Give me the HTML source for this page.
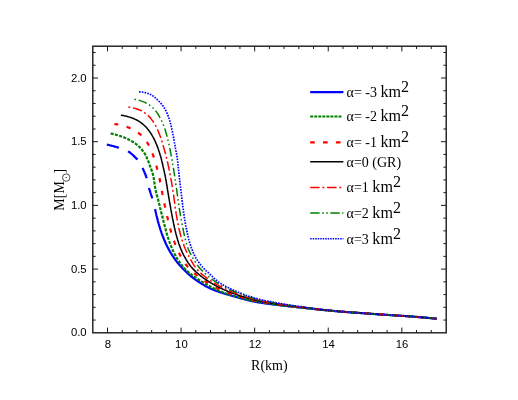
<!DOCTYPE html>
<html>
<head>
<meta charset="utf-8">
<title>M-R relation</title>
<style>
html, body { margin: 0; padding: 0; background: #ffffff; }
body { width: 518px; height: 400px; overflow: hidden; font-family: "Liberation Sans", sans-serif; }
svg { display: block; will-change: transform; }
</style>
</head>
<body>
<svg width="518" height="400" viewBox="0 0 518 400">
<rect x="0" y="0" width="518" height="400" fill="#ffffff"/>
<g fill="none" stroke-linecap="butt" stroke-linejoin="round">
<path d="M106.8,144.6 L107.5,144.7 L108.2,144.9 L108.9,145.0 L109.5,145.2 L110.2,145.4 L110.9,145.5 L111.6,145.7 L112.2,145.9 L112.9,146.0 L113.6,146.2 L114.3,146.4 L114.9,146.6 L115.6,146.8 L116.3,147.0 L116.9,147.2 L117.6,147.4 L118.3,147.6 L118.9,147.8" stroke="#0000ff" stroke-width="2.2"/>
<path d="M128.0,151.3 L128.6,151.7 L129.2,152.0 L129.8,152.4 L130.3,152.9 L130.9,153.3 L131.4,153.8 L131.9,154.2 L132.5,154.7 L133.0,155.2 L133.5,155.6 L134.0,156.1 L134.5,156.6 L135.0,157.1 L135.5,157.6 L136.0,158.1 L136.5,158.6 L137.0,159.1 L137.4,159.6" stroke="#0000ff" stroke-width="2.2"/>
<path d="M142.5,168.0 L142.8,168.6 L143.1,169.2 L143.4,169.8 L143.7,170.5 L144.0,171.1 L144.3,171.8 L144.5,172.4 L144.8,173.0 L145.1,173.7 L145.3,174.3 L145.6,175.0 L145.8,175.7 L146.1,176.3 L146.3,177.0 L146.5,177.6 L146.7,178.3" stroke="#0000ff" stroke-width="2.2"/>
<path d="M149.0,187.8 L149.1,188.5 L149.3,189.1 L149.5,189.8 L149.7,190.5 L150.0,191.1 L150.2,191.8 L150.4,192.5 L150.6,193.1 L150.8,193.8 L151.0,194.4 L151.2,195.1 L151.5,195.8 L151.7,196.4 L151.9,197.1 L152.1,197.8 L152.2,198.4" stroke="#0000ff" stroke-width="2.2"/>
<path d="M155.1,209.2 L155.2,209.9 L155.4,210.6 L155.6,211.3 L155.7,212.0 L155.9,212.6 L156.0,213.3 L156.2,214.0 L156.3,214.7 L156.5,215.4 L156.6,216.0 L156.8,216.7 L157.0,217.4 L157.1,218.1 L157.3,218.7 L157.5,219.4 L157.6,220.1 L157.8,220.8 L158.0,221.4 L158.2,222.1 L158.4,222.8 L158.6,223.5 L158.8,224.1 L159.0,224.8 L159.1,225.5 L159.3,226.1 L159.5,226.8 L159.8,227.5 L160.0,228.1 L160.2,228.8 L160.4,229.5 L160.6,230.1 L160.8,230.8 L161.0,231.5 L161.3,232.1 L161.5,232.8 L161.7,233.4 L162.0,234.1 L162.2,234.7 L162.4,235.4 L162.7,236.0 L162.9,236.7 L163.2,237.3 L163.4,238.0 L163.7,238.6 L164.0,239.3 L164.2,239.9 L164.5,240.6 L164.8,241.2 L165.1,241.9 L165.3,242.5 L165.6,243.1 L165.9,243.8 L166.2,244.4 L166.5,245.0 L166.8,245.6 L167.1,246.3 L167.4,246.9 L167.8,247.5 L168.1,248.1 L168.4,248.7 L168.7,249.4 L169.1,250.0 L169.4,250.6 L169.8,251.2 L170.1,251.8 L170.5,252.4 L170.8,253.0 L171.2,253.6 L171.6,254.2 L171.9,254.8 L172.3,255.4 L172.7,255.9 L173.1,256.5 L173.5,257.1 L173.9,257.7 L174.3,258.2 L174.7,258.8 L175.1,259.4 L175.5,260.0 L175.9,260.5 L176.3,261.1 L176.7,261.6 L177.2,262.2 L177.6,262.7 L178.1,263.3 L178.5,263.8 L178.9,264.3 L179.4,264.9 L179.9,265.4 L180.3,265.9 L180.8,266.4 L181.3,266.9 L181.7,267.4 L182.2,267.9 L182.7,268.4 L183.2,269.0 L183.7,269.5 L184.2,270.0 L184.6,270.4 L185.2,270.9 L185.7,271.4 L186.2,271.9 L186.7,272.4 L187.2,272.9 L187.7,273.4 L188.2,273.8 L188.8,274.3 L189.3,274.8 L189.8,275.2 L190.3,275.7 L190.9,276.1 L191.4,276.6 L192.0,277.0 L192.5,277.4 L193.1,277.9 L193.6,278.3 L194.2,278.7 L194.7,279.1 L195.3,279.5 L195.8,279.9 L196.4,280.3 L197.0,280.7 L197.5,281.1 L198.1,281.5 L198.7,281.9 L199.3,282.3 L199.9,282.6 L200.5,283.0 L201.0,283.4 L201.6,283.8 L202.2,284.1 L202.9,284.5 L203.5,284.8 L204.1,285.2 L204.7,285.5 L205.3,285.9 L205.9,286.2 L206.5,286.6 L207.2,286.9 L207.8,287.2 L208.4,287.5 L209.0,287.8 L209.7,288.1 L210.3,288.4 L210.9,288.7 L211.6,289.0 L212.2,289.3 L212.8,289.5 L213.5,289.8 L214.1,290.1 L214.7,290.3 L215.4,290.6 L216.0,290.8 L216.7,291.1 L217.3,291.3 L218.0,291.5 L218.6,291.7 L219.3,292.0 L220.0,292.2 L220.6,292.4 L221.3,292.6 L222.0,292.8 L222.6,293.0 L223.3,293.2 L224.0,293.5 L224.6,293.7 L225.3,293.9 L226.0,294.1 L226.7,294.2 L227.3,294.4 L228.0,294.6 L228.7,294.8 L229.4,295.0 L230.0,295.2 L230.7,295.4 L231.4,295.6 L232.1,295.8 L232.7,296.0 L233.4,296.2 L234.1,296.4 L234.7,296.5 L235.4,296.7 L236.1,296.9 L236.7,297.1 L237.4,297.3 L238.1,297.5 L238.8,297.7 L239.4,297.9 L240.1,298.1 L240.8,298.3 L241.5,298.4 L242.1,298.6 L242.8,298.8 L243.5,299.0 L244.1,299.2 L244.8,299.4 L245.5,299.5 L246.2,299.7 L246.9,299.9 L247.5,300.1 L248.2,300.2 L248.9,300.4 L249.6,300.6 L250.2,300.7 L250.9,300.9 L251.6,301.0 L252.3,301.2 L253.0,301.3 L253.6,301.5 L254.3,301.6 L255.0,301.8 L255.7,301.9 L256.4,302.0 L257.1,302.1 L257.7,302.3 L258.4,302.4 L259.1,302.5 L259.8,302.6 L260.5,302.7 L261.2,302.8 L261.8,302.9 L262.5,303.0 L263.2,303.1 L263.9,303.2 L264.6,303.3 L265.3,303.4 L266.0,303.5 L266.7,303.6 L267.4,303.7 L268.1,303.8 L268.8,303.9 L269.4,304.0 L270.1,304.1 L270.8,304.2 L271.5,304.2 L272.2,304.3 L272.9,304.4 L273.6,304.5 L274.3,304.6 L275.0,304.7 L275.7,304.7 L276.4,304.8 L277.1,304.9 L277.8,305.0 L278.5,305.1 L279.2,305.1 L279.8,305.2 L280.5,305.3 L281.2,305.4 L281.9,305.5 L282.6,305.6 L283.3,305.6 L284.0,305.7 L284.7,305.8 L285.4,305.9 L286.1,306.0 L286.8,306.0 L287.5,306.1 L288.2,306.2 L288.8,306.3 L289.5,306.4 L290.2,306.4 L290.9,306.5 L291.6,306.6 L292.3,306.7 L293.0,306.7 L293.7,306.8 L294.4,306.9 L295.1,307.0 L295.8,307.0 L296.5,307.1 L297.2,307.2 L297.9,307.3 L298.5,307.3 L299.2,307.4 L299.9,307.5 L300.6,307.6 L301.3,307.6 L302.0,307.7 L302.7,307.8 L303.4,307.9 L304.1,307.9 L304.8,308.0 L305.5,308.1 L306.2,308.2 L306.9,308.2 L307.6,308.3 L308.3,308.4 L308.9,308.5 L309.6,308.5 L310.3,308.6 L311.0,308.7 L311.7,308.8 L312.4,308.8 L313.1,308.9 L313.8,309.0 L314.5,309.1 L315.2,309.1 L315.9,309.2 L316.6,309.3 L317.3,309.4 L318.0,309.4 L318.7,309.5 L319.3,309.6 L320.0,309.6 L320.7,309.7 L321.4,309.8 L322.1,309.9 L322.8,309.9 L323.5,310.0 L324.2,310.1 L324.9,310.1 L325.6,310.2 L326.3,310.3 L327.0,310.3 L327.7,310.4 L328.4,310.5 L329.1,310.5 L329.8,310.6 L330.4,310.7 L331.1,310.7 L331.8,310.8 L332.5,310.9 L333.2,310.9 L333.9,311.0 L334.6,311.1 L335.3,311.1 L336.0,311.2 L336.7,311.2 L337.4,311.3 L338.1,311.4 L338.8,311.4 L339.5,311.5 L340.2,311.5 L340.9,311.6 L341.6,311.6 L342.3,311.7 L342.9,311.7 L343.6,311.8 L344.3,311.9 L345.0,311.9 L345.7,312.0 L346.4,312.0 L347.1,312.1 L347.8,312.1 L348.5,312.2 L349.2,312.2 L349.9,312.3 L350.6,312.3 L351.3,312.4 L352.0,312.4 L352.7,312.5 L353.4,312.5 L354.1,312.6 L354.8,312.6 L355.5,312.7 L356.2,312.7 L356.9,312.8 L357.5,312.8 L358.2,312.9 L358.9,312.9 L359.6,313.0 L360.3,313.0 L361.0,313.1 L361.7,313.1 L362.4,313.2 L363.1,313.2 L363.8,313.3 L364.5,313.3 L365.2,313.4 L365.9,313.4 L366.6,313.5 L367.3,313.5 L368.0,313.6 L368.7,313.6 L369.4,313.7 L370.1,313.7 L370.8,313.8 L371.5,313.8 L372.1,313.9 L372.8,313.9 L373.5,314.0 L374.2,314.0 L374.9,314.1 L375.6,314.1 L376.3,314.2 L377.0,314.2 L377.7,314.3 L378.4,314.3 L379.1,314.4 L379.8,314.4 L380.5,314.4 L381.2,314.5 L381.9,314.5 L382.6,314.6 L383.3,314.6 L384.0,314.7 L384.7,314.7 L385.4,314.8 L386.1,314.8 L386.8,314.9 L387.5,314.9 L388.1,315.0 L388.8,315.0 L389.5,315.0 L390.2,315.1 L390.9,315.1 L391.6,315.2 L392.3,315.2 L393.0,315.3 L393.7,315.3 L394.4,315.4 L395.1,315.4 L395.8,315.4 L396.5,315.5 L397.2,315.5 L397.9,315.6 L398.6,315.6 L399.3,315.7 L400.0,315.7 L400.7,315.8 L401.4,315.8 L402.1,315.8 L402.8,315.9 L403.5,315.9 L404.1,316.0 L404.8,316.0 L405.5,316.1 L406.2,316.1 L406.9,316.2 L407.6,316.2 L408.3,316.3 L409.0,316.3 L409.7,316.4 L410.4,316.4 L411.1,316.5 L411.8,316.5 L412.5,316.6 L413.2,316.6 L413.9,316.7 L414.6,316.8 L415.3,316.8 L416.0,316.9 L416.7,316.9 L417.4,317.0 L418.1,317.0 L418.7,317.1 L419.4,317.1 L420.1,317.2 L420.8,317.3 L421.5,317.3 L422.2,317.4 L422.9,317.4 L423.6,317.5 L424.3,317.6 L425.0,317.6 L425.7,317.7 L426.4,317.7 L427.1,317.8 L427.8,317.9 L428.5,317.9 L429.2,318.0 L429.9,318.1 L430.6,318.1 L431.2,318.2 L431.9,318.2 L432.6,318.3 L433.3,318.4 L434.0,318.4 L434.7,318.5 L435.4,318.6 L436.1,318.6 L436.8,318.7" stroke="#0000ff" stroke-width="2.2"/>
<path d="M110.6,133.5 L111.3,133.6 L112.0,133.8 L112.7,133.9 L113.4,134.1 L114.1,134.3 L114.8,134.4 L115.5,134.6 L116.1,134.8 L116.8,135.0 L117.5,135.2 L118.2,135.4 L118.9,135.6 L119.5,135.8 L120.2,136.0 L120.9,136.3 L121.5,136.5 L122.2,136.7 L122.9,137.0 L123.5,137.2 L124.2,137.5 L124.9,137.8 L125.5,138.0 L126.2,138.3 L126.8,138.6 L127.5,138.9 L128.1,139.2 L128.7,139.5 L129.4,139.9 L130.0,140.2 L130.6,140.5 L131.2,140.9 L131.8,141.2 L132.4,141.6 L133.0,142.0 L133.6,142.4 L134.2,142.8 L134.8,143.2 L135.4,143.6 L136.0,144.0 L136.6,144.5 L137.1,144.9 L137.7,145.4 L138.2,145.8 L138.7,146.3 L139.2,146.8 L139.7,147.3 L140.2,147.8 L140.7,148.3 L141.1,148.8 L141.6,149.4 L142.1,149.9 L142.5,150.5 L143.0,151.1 L143.4,151.6 L143.8,152.2 L144.2,152.8 L144.6,153.4 L145.0,154.0 L145.3,154.6 L145.6,155.2 L146.0,155.8 L146.3,156.5 L146.6,157.1 L146.9,157.8 L147.1,158.4 L147.4,159.1 L147.7,159.7 L147.9,160.4 L148.2,161.1 L148.5,161.7 L148.7,162.4 L149.0,163.1 L149.2,163.7 L149.4,164.4 L149.7,165.1 L149.9,165.8 L150.2,166.4 L150.4,167.1 L150.7,167.7 L150.9,168.4 L151.2,169.1 L151.4,169.8 L151.7,170.4 L151.9,171.1 L152.1,171.8 L152.4,172.4 L152.6,173.1 L152.8,173.8 L153.0,174.5 L153.1,175.2 L153.3,175.8 L153.5,176.5 L153.6,177.2 L153.7,177.9 L153.8,178.6 L153.9,179.3 L154.0,180.0 L154.1,180.7 L154.2,181.4 L154.3,182.1 L154.4,182.8 L154.5,183.5 L154.6,184.2 L154.7,185.0 L154.8,185.7 L154.9,186.4 L155.0,187.1 L155.1,187.8 L155.3,188.4 L155.4,189.1 L155.5,189.8 L155.7,190.5 L155.9,191.2 L156.0,191.9 L156.2,192.6 L156.4,193.3 L156.6,194.0 L156.7,194.6 L156.9,195.3 L157.1,196.0 L157.3,196.7 L157.5,197.4 L157.7,198.1 L157.9,198.8 L158.0,199.4 L158.2,200.1 L158.4,200.8 L158.6,201.5 L158.8,202.2 L158.9,202.9 L159.1,203.6 L159.3,204.3 L159.5,204.9 L159.6,205.6 L159.8,206.3 L160.0,207.0 L160.1,207.7 L160.3,208.4 L160.5,209.1 L160.6,209.8 L160.8,210.4 L161.0,211.1 L161.1,211.8 L161.3,212.5 L161.5,213.2 L161.6,213.9 L161.8,214.6 L162.0,215.3 L162.2,216.0 L162.3,216.6 L162.5,217.3 L162.7,218.0 L162.8,218.7 L163.0,219.4 L163.2,220.1 L163.4,220.8 L163.5,221.5 L163.7,222.1 L163.9,222.8 L164.1,223.5 L164.3,224.2 L164.4,224.9 L164.6,225.6 L164.8,226.3 L165.0,226.9 L165.2,227.6 L165.3,228.3 L165.5,229.0 L165.7,229.7 L165.9,230.4 L166.1,231.1 L166.3,231.8 L166.5,232.4 L166.6,233.1 L166.8,233.8 L167.0,234.5 L167.2,235.2 L167.4,235.8 L167.6,236.5 L167.9,237.2 L168.1,237.9 L168.3,238.5 L168.5,239.2 L168.7,239.9 L169.0,240.6 L169.2,241.2 L169.4,241.9 L169.7,242.6 L169.9,243.2 L170.2,243.9 L170.4,244.5 L170.7,245.2 L171.0,245.9 L171.2,246.5 L171.5,247.2 L171.8,247.8 L172.1,248.5 L172.3,249.2 L172.6,249.8 L172.9,250.5 L173.2,251.1 L173.5,251.7 L173.8,252.4 L174.2,253.0 L174.5,253.6 L174.8,254.3 L175.1,254.9 L175.5,255.5 L175.8,256.1 L176.1,256.7 L176.5,257.4 L176.9,258.0 L177.2,258.6 L177.6,259.2 L178.0,259.8 L178.4,260.4 L178.8,261.0 L179.1,261.6 L179.6,262.2 L180.0,262.8 L180.4,263.4 L180.8,264.0 L181.2,264.5 L181.7,265.1 L182.1,265.7 L182.5,266.2 L183.0,266.7 L183.4,267.3 L183.9,267.8 L184.4,268.3 L184.8,268.8 L185.3,269.3 L185.8,269.8 L186.3,270.3 L186.8,270.7 L187.4,271.2 L187.9,271.7 L188.4,272.2 L189.0,272.6 L189.5,273.1 L190.1,273.5 L190.6,274.0 L191.2,274.4 L191.7,274.9 L192.3,275.3 L192.9,275.7 L193.5,276.2 L194.1,276.6 L194.7,277.0 L195.2,277.4 L195.8,277.8 L196.4,278.2 L197.0,278.6 L197.6,279.0 L198.2,279.4 L198.8,279.8 L199.4,280.2 L200.0,280.6 L200.6,281.0 L201.2,281.3 L201.8,281.7 L202.4,282.1 L203.0,282.4 L203.6,282.8 L204.2,283.1 L204.8,283.5 L205.4,283.9 L206.0,284.2 L206.7,284.6 L207.3,284.9 L207.9,285.3 L208.5,285.6 L209.2,285.9 L209.8,286.3 L210.4,286.6 L211.1,287.0 L211.7,287.3 L212.3,287.6 L213.0,287.9 L213.6,288.3 L214.3,288.6 L214.9,288.9 L215.5,289.2 L216.2,289.5 L216.8,289.8 L217.5,290.1 L218.1,290.4 L218.8,290.7 L219.4,291.0 L220.1,291.2 L220.8,291.5 L221.4,291.8 L222.1,292.0 L222.7,292.3 L223.4,292.6 L224.0,292.8 L224.7,293.0 L225.4,293.3 L226.0,293.5 L226.7,293.7 L227.3,294.0 L228.0,294.2 L228.7,294.4 L229.3,294.6 L230.0,294.8 L230.7,295.0 L231.4,295.3 L232.0,295.5 L232.7,295.7 L233.4,295.9 L234.1,296.1 L234.7,296.3 L235.4,296.5 L236.1,296.7 L236.8,296.9 L237.5,297.0 L238.2,297.2 L238.9,297.4 L239.5,297.6 L240.2,297.8 L240.9,298.0 L241.6,298.1 L242.3,298.3 L243.0,298.5 L243.7,298.7 L244.4,298.8 L245.1,299.0 L245.8,299.2 L246.5,299.3 L247.2,299.5 L247.9,299.6 L248.6,299.8 L249.2,299.9 L249.9,300.1 L250.6,300.2 L251.3,300.4 L252.0,300.5 L252.7,300.7 L253.4,300.8 L254.1,301.0 L254.8,301.1 L255.5,301.2 L256.2,301.4 L256.9,301.5 L257.6,301.6 L258.3,301.8 L259.0,301.9 L259.7,302.0 L260.4,302.1 L261.1,302.3 L261.8,302.4 L262.5,302.5 L263.2,302.6 L263.9,302.7 L264.6,302.8 L265.3,303.0 L266.0,303.1 L266.7,303.2 L267.4,303.3 L268.1,303.4 L268.8,303.5 L269.5,303.6 L270.2,303.7 L270.9,303.8 L271.6,303.9 L272.3,304.0 L273.0,304.1 L273.7,304.2 L274.4,304.3 L275.1,304.4 L275.8,304.5 L276.5,304.6 L277.2,304.6 L277.9,304.7 L278.6,304.8 L279.3,304.9 L280.0,305.0 L280.7,305.1 L281.4,305.2 L282.1,305.3 L282.8,305.4 L283.6,305.5 L284.3,305.6 L285.0,305.7 L285.7,305.7 L286.4,305.8 L287.1,305.9 L287.8,306.0 L288.5,306.1 L289.2,306.2 L289.9,306.2 L290.6,306.3 L291.3,306.4 L292.0,306.5 L292.7,306.6 L293.4,306.7 L294.1,306.7 L294.8,306.8 L295.5,306.9 L296.2,307.0 L296.9,307.1 L297.6,307.1 L298.3,307.2 L299.0,307.3 L299.7,307.4 L300.4,307.5 L301.2,307.5 L301.9,307.6 L302.6,307.7 L303.3,307.8 L304.0,307.8 L304.7,307.9 L305.4,308.0 L306.1,308.1 L306.8,308.2 L307.5,308.2 L308.2,308.3 L308.9,308.4 L309.6,308.5 L310.3,308.6 L311.0,308.6 L311.7,308.7 L312.4,308.8 L313.1,308.9 L313.8,308.9 L314.5,309.0 L315.2,309.1 L316.0,309.2 L316.7,309.3 L317.4,309.3 L318.1,309.4 L318.8,309.5 L319.5,309.6 L320.2,309.6 L320.9,309.7 L321.6,309.8 L322.3,309.9 L323.0,309.9 L323.7,310.0 L324.4,310.1 L325.1,310.1 L325.8,310.2 L326.5,310.3 L327.2,310.4 L327.9,310.4 L328.6,310.5 L329.4,310.6 L330.1,310.6 L330.8,310.7 L331.5,310.8 L332.2,310.8 L332.9,310.9 L333.6,311.0 L334.3,311.0 L335.0,311.1 L335.7,311.1 L336.4,311.2 L337.1,311.3 L337.8,311.3 L338.5,311.4 L339.2,311.4 L339.9,311.5 L340.6,311.6 L341.4,311.6 L342.1,311.7 L342.8,311.7 L343.5,311.8 L344.2,311.8 L344.9,311.9 L345.6,312.0 L346.3,312.0 L347.0,312.1 L347.7,312.1 L348.4,312.2 L349.1,312.2 L349.8,312.3 L350.5,312.3 L351.3,312.4 L352.0,312.4 L352.7,312.5 L353.4,312.5 L354.1,312.6 L354.8,312.6 L355.5,312.7 L356.2,312.7 L356.9,312.8 L357.6,312.8 L358.3,312.9 L359.0,312.9 L359.7,313.0 L360.4,313.0 L361.2,313.1 L361.9,313.1 L362.6,313.2 L363.3,313.2 L364.0,313.3 L364.7,313.3 L365.4,313.4 L366.1,313.4 L366.8,313.5 L367.5,313.5 L368.2,313.6 L368.9,313.6 L369.6,313.7 L370.3,313.7 L371.1,313.8 L371.8,313.8 L372.5,313.9 L373.2,313.9 L373.9,314.0 L374.6,314.0 L375.3,314.1 L376.0,314.1 L376.7,314.2 L377.4,314.2 L378.1,314.3 L378.8,314.3 L379.5,314.4 L380.2,314.4 L381.0,314.5 L381.7,314.5 L382.4,314.6 L383.1,314.6 L383.8,314.7 L384.5,314.7 L385.2,314.8 L385.9,314.8 L386.6,314.9 L387.3,314.9 L388.0,315.0 L388.7,315.0 L389.4,315.0 L390.2,315.1 L390.9,315.1 L391.6,315.2 L392.3,315.2 L393.0,315.3 L393.7,315.3 L394.4,315.4 L395.1,315.4 L395.8,315.4 L396.5,315.5 L397.2,315.5 L397.9,315.6 L398.6,315.6 L399.3,315.7 L400.1,315.7 L400.8,315.8 L401.5,315.8 L402.2,315.9 L402.9,315.9 L403.6,315.9 L404.3,316.0 L405.0,316.0 L405.7,316.1 L406.4,316.1 L407.1,316.2 L407.8,316.2 L408.5,316.3 L409.3,316.3 L410.0,316.4 L410.7,316.4 L411.4,316.5 L412.1,316.6 L412.8,316.6 L413.5,316.7 L414.2,316.7 L414.9,316.8 L415.6,316.8 L416.3,316.9 L417.0,316.9 L417.7,317.0 L418.4,317.1 L419.1,317.1 L419.9,317.2 L420.6,317.2 L421.3,317.3 L422.0,317.4 L422.7,317.4 L423.4,317.5 L424.1,317.5 L424.8,317.6 L425.5,317.7 L426.2,317.7 L426.9,317.8 L427.6,317.8 L428.3,317.9 L429.0,318.0 L429.7,318.0 L430.4,318.1 L431.2,318.2 L431.9,318.2 L432.6,318.3 L433.3,318.4 L434.0,318.4 L434.7,318.5 L435.4,318.6 L436.1,318.6 L436.8,318.7" stroke="#008000" stroke-width="2.2" stroke-dasharray="3.1 1.3"/>
<path d="M114.4,124.0 L115.1,124.1 L115.9,124.2 L116.6,124.3 L117.3,124.4 L118.0,124.5 L118.8,124.6 L119.5,124.8 L120.2,124.9 L120.9,125.1 L121.6,125.3 L122.3,125.5 L123.0,125.7 L123.7,125.9 L124.3,126.1 L125.0,126.3 L125.7,126.5 L126.4,126.7 L127.0,126.9 L127.7,127.2 L128.3,127.4 L129.0,127.6 L129.7,127.9 L130.3,128.2 L131.0,128.4 L131.6,128.8 L132.3,129.1 L132.9,129.4 L133.6,129.8 L134.2,130.1 L134.9,130.5 L135.5,130.9 L136.1,131.3 L136.7,131.7 L137.3,132.1 L137.9,132.5 L138.5,132.9 L139.0,133.4 L139.6,133.8 L140.1,134.2 L140.6,134.7 L141.2,135.2 L141.7,135.6 L142.2,136.1 L142.7,136.7 L143.2,137.2 L143.7,137.7 L144.1,138.3 L144.6,138.9 L145.0,139.5 L145.5,140.0 L145.9,140.6 L146.3,141.2 L146.8,141.8 L147.2,142.4 L147.5,143.0 L147.9,143.6 L148.3,144.2 L148.6,144.9 L148.9,145.5 L149.3,146.1 L149.6,146.7 L149.9,147.4 L150.2,148.0 L150.5,148.7 L150.8,149.4 L151.1,150.0 L151.4,150.7 L151.6,151.4 L151.9,152.0 L152.2,152.7 L152.4,153.4 L152.7,154.1 L152.9,154.7 L153.2,155.4 L153.4,156.1 L153.6,156.8 L153.9,157.4 L154.1,158.1 L154.3,158.8 L154.5,159.5 L154.7,160.2 L155.0,160.9 L155.2,161.6 L155.4,162.2 L155.6,162.9 L155.8,163.6 L156.0,164.3 L156.1,165.0 L156.3,165.7 L156.5,166.4 L156.7,167.1 L156.9,167.8 L157.1,168.5 L157.2,169.2 L157.4,169.9 L157.6,170.6 L157.8,171.3 L157.9,172.0 L158.1,172.7 L158.3,173.3 L158.4,174.0 L158.6,174.7 L158.8,175.4 L158.9,176.1 L159.1,176.8 L159.2,177.5 L159.4,178.2 L159.6,178.9 L159.7,179.6 L159.9,180.3 L160.0,181.1 L160.1,181.8 L160.3,182.5 L160.4,183.2 L160.6,183.9 L160.7,184.6 L160.8,185.3 L161.0,186.0 L161.1,186.7 L161.2,187.4 L161.4,188.1 L161.5,188.8 L161.6,189.5 L161.8,190.2 L161.9,190.9 L162.0,191.6 L162.2,192.3 L162.3,193.0 L162.4,193.7 L162.6,194.4 L162.7,195.1 L162.8,195.8 L163.0,196.5 L163.1,197.3 L163.3,198.0 L163.4,198.7 L163.6,199.4 L163.7,200.1 L163.8,200.8 L164.0,201.5 L164.1,202.2 L164.3,202.9 L164.4,203.6 L164.6,204.3 L164.7,205.0 L164.8,205.7 L165.0,206.4 L165.1,207.1 L165.3,207.8 L165.4,208.5 L165.6,209.2 L165.7,209.9 L165.9,210.6 L166.0,211.3 L166.2,212.0 L166.3,212.7 L166.5,213.4 L166.7,214.1 L166.8,214.8 L167.0,215.5 L167.1,216.2 L167.3,216.9 L167.5,217.6 L167.6,218.3 L167.8,219.0 L167.9,219.7 L168.1,220.4 L168.3,221.1 L168.4,221.8 L168.6,222.5 L168.8,223.2 L168.9,223.9 L169.1,224.6 L169.3,225.3 L169.5,226.0 L169.7,226.7 L169.8,227.4 L170.0,228.1 L170.2,228.7 L170.4,229.4 L170.6,230.1 L170.8,230.8 L171.0,231.5 L171.2,232.2 L171.4,232.9 L171.6,233.6 L171.8,234.3 L172.0,234.9 L172.2,235.6 L172.4,236.3 L172.7,237.0 L172.9,237.7 L173.1,238.4 L173.3,239.0 L173.6,239.7 L173.8,240.4 L174.1,241.1 L174.3,241.7 L174.6,242.4 L174.8,243.1 L175.1,243.8 L175.3,244.4 L175.6,245.1 L175.9,245.8 L176.1,246.4 L176.4,247.1 L176.7,247.7 L177.0,248.4 L177.2,249.1 L177.5,249.7 L177.8,250.4 L178.1,251.0 L178.4,251.7 L178.7,252.3 L179.1,253.0 L179.4,253.6 L179.7,254.3 L180.0,254.9 L180.3,255.6 L180.7,256.2 L181.0,256.8 L181.4,257.4 L181.7,258.1 L182.1,258.7 L182.4,259.3 L182.8,259.9 L183.2,260.6 L183.6,261.2 L184.0,261.8 L184.4,262.4 L184.8,263.0 L185.2,263.6 L185.6,264.2 L186.0,264.7 L186.5,265.3 L186.9,265.8 L187.4,266.4 L187.8,266.9 L188.3,267.4 L188.8,267.9 L189.3,268.5 L189.7,269.0 L190.2,269.5 L190.8,270.0 L191.3,270.5 L191.8,271.0 L192.3,271.5 L192.9,272.0 L193.4,272.5 L193.9,272.9 L194.5,273.4 L195.0,273.9 L195.6,274.4 L196.2,274.8 L196.7,275.3 L197.3,275.7 L197.9,276.2 L198.5,276.6 L199.0,277.1 L199.6,277.5 L200.2,277.9 L200.8,278.4 L201.4,278.8 L202.0,279.2 L202.6,279.6 L203.2,280.0 L203.7,280.4 L204.3,280.8 L204.9,281.2 L205.5,281.5 L206.1,281.9 L206.7,282.3 L207.3,282.6 L207.9,283.0 L208.5,283.4 L209.2,283.7 L209.8,284.1 L210.4,284.5 L211.0,284.8 L211.7,285.2 L212.3,285.5 L212.9,285.9 L213.6,286.2 L214.2,286.5 L214.8,286.9 L215.5,287.2 L216.1,287.5 L216.8,287.9 L217.4,288.2 L218.1,288.5 L218.7,288.8 L219.4,289.1 L220.1,289.4 L220.7,289.7 L221.4,290.0 L222.0,290.3 L222.7,290.6 L223.4,290.9 L224.0,291.2 L224.7,291.5 L225.4,291.7 L226.0,292.0 L226.7,292.3 L227.4,292.5 L228.0,292.8 L228.7,293.0 L229.4,293.3 L230.0,293.5 L230.7,293.7 L231.4,294.0 L232.0,294.2 L232.7,294.4 L233.4,294.7 L234.1,294.9 L234.7,295.1 L235.4,295.3 L236.1,295.6 L236.8,295.8 L237.5,296.0 L238.2,296.2 L238.8,296.4 L239.5,296.6 L240.2,296.8 L240.9,297.0 L241.6,297.2 L242.3,297.4 L243.0,297.6 L243.7,297.8 L244.4,298.0 L245.1,298.2 L245.8,298.4 L246.5,298.6 L247.2,298.8 L247.9,298.9 L248.6,299.1 L249.3,299.3 L250.0,299.5 L250.7,299.6 L251.4,299.8 L252.1,300.0 L252.8,300.1 L253.5,300.3 L254.2,300.4 L254.9,300.6 L255.6,300.7 L256.3,300.9 L257.0,301.0 L257.7,301.2 L258.4,301.3 L259.1,301.4 L259.8,301.6 L260.5,301.7 L261.2,301.8 L261.9,302.0 L262.6,302.1 L263.3,302.2 L264.0,302.3 L264.7,302.4 L265.4,302.6 L266.1,302.7 L266.8,302.8 L267.6,302.9 L268.3,303.0 L269.0,303.1 L269.7,303.2 L270.4,303.3 L271.1,303.4 L271.8,303.5 L272.5,303.6 L273.2,303.7 L274.0,303.9 L274.7,304.0 L275.4,304.1 L276.1,304.2 L276.8,304.3 L277.5,304.3 L278.2,304.4 L278.9,304.5 L279.6,304.6 L280.4,304.7 L281.1,304.8 L281.8,304.9 L282.5,305.0 L283.2,305.1 L283.9,305.2 L284.6,305.3 L285.3,305.4 L286.0,305.5 L286.8,305.6 L287.5,305.7 L288.2,305.8 L288.9,305.9 L289.6,306.0 L290.3,306.0 L291.0,306.1 L291.7,306.2 L292.4,306.3 L293.2,306.4 L293.9,306.5 L294.6,306.6 L295.3,306.6 L296.0,306.7 L296.7,306.8 L297.4,306.9 L298.1,307.0 L298.9,307.1 L299.6,307.2 L300.3,307.2 L301.0,307.3 L301.7,307.4 L302.4,307.5 L303.1,307.6 L303.8,307.7 L304.6,307.7 L305.3,307.8 L306.0,307.9 L306.7,308.0 L307.4,308.1 L308.1,308.2 L308.8,308.2 L309.5,308.3 L310.3,308.4 L311.0,308.5 L311.7,308.6 L312.4,308.7 L313.1,308.7 L313.8,308.8 L314.5,308.9 L315.2,309.0 L316.0,309.1 L316.7,309.2 L317.4,309.2 L318.1,309.3 L318.8,309.4 L319.5,309.5 L320.2,309.6 L321.0,309.6 L321.7,309.7 L322.4,309.8 L323.1,309.9 L323.8,310.0 L324.5,310.0 L325.2,310.1 L325.9,310.2 L326.7,310.3 L327.4,310.3 L328.1,310.4 L328.8,310.5 L329.5,310.6 L330.2,310.6 L330.9,310.7 L331.7,310.8 L332.4,310.8 L333.1,310.9 L333.8,311.0 L334.5,311.0 L335.2,311.1 L335.9,311.2 L336.7,311.2 L337.4,311.3 L338.1,311.4 L338.8,311.4 L339.5,311.5 L340.2,311.5 L340.9,311.6 L341.7,311.7 L342.4,311.7 L343.1,311.8 L343.8,311.8 L344.5,311.9 L345.2,311.9 L345.9,312.0 L346.7,312.0 L347.4,312.1 L348.1,312.1 L348.8,312.2 L349.5,312.2 L350.2,312.3 L351.0,312.4 L351.7,312.4 L352.4,312.5 L353.1,312.5 L353.8,312.6 L354.5,312.6 L355.2,312.7 L356.0,312.7 L356.7,312.8 L357.4,312.8 L358.1,312.9 L358.8,312.9 L359.5,313.0 L360.3,313.0 L361.0,313.1 L361.7,313.1 L362.4,313.2 L363.1,313.2 L363.8,313.3 L364.5,313.3 L365.3,313.4 L366.0,313.4 L366.7,313.5 L367.4,313.5 L368.1,313.6 L368.8,313.6 L369.6,313.7 L370.3,313.7 L371.0,313.8 L371.7,313.8 L372.4,313.9 L373.1,313.9 L373.9,314.0 L374.6,314.0 L375.3,314.1 L376.0,314.1 L376.7,314.2 L377.4,314.2 L378.1,314.3 L378.9,314.3 L379.6,314.4 L380.3,314.4 L381.0,314.5 L381.7,314.5 L382.4,314.6 L383.2,314.6 L383.9,314.7 L384.6,314.7 L385.3,314.8 L386.0,314.8 L386.7,314.9 L387.5,314.9 L388.2,315.0 L388.9,315.0 L389.6,315.1 L390.3,315.1 L391.0,315.1 L391.7,315.2 L392.5,315.2 L393.2,315.3 L393.9,315.3 L394.6,315.4 L395.3,315.4 L396.0,315.5 L396.8,315.5 L397.5,315.5 L398.2,315.6 L398.9,315.6 L399.6,315.7 L400.3,315.7 L401.1,315.8 L401.8,315.8 L402.5,315.9 L403.2,315.9 L403.9,316.0 L404.6,316.0 L405.3,316.1 L406.1,316.1 L406.8,316.2 L407.5,316.2 L408.2,316.3 L408.9,316.3 L409.6,316.4 L410.4,316.4 L411.1,316.5 L411.8,316.5 L412.5,316.6 L413.2,316.6 L413.9,316.7 L414.6,316.8 L415.4,316.8 L416.1,316.9 L416.8,316.9 L417.5,317.0 L418.2,317.0 L418.9,317.1 L419.7,317.2 L420.4,317.2 L421.1,317.3 L421.8,317.3 L422.5,317.4 L423.2,317.5 L423.9,317.5 L424.7,317.6 L425.4,317.7 L426.1,317.7 L426.8,317.8 L427.5,317.8 L428.2,317.9 L428.9,318.0 L429.7,318.0 L430.4,318.1 L431.1,318.2 L431.8,318.2 L432.5,318.3 L433.2,318.4 L433.9,318.4 L434.7,318.5 L435.4,318.6 L436.1,318.6 L436.8,318.7" stroke="#ff0000" stroke-width="2.2" stroke-dasharray="4.3 8.6" stroke-dashoffset="0.4"/>
<path d="M120.9,115.2 L121.6,115.3 L122.4,115.4 L123.1,115.5 L123.8,115.6 L124.5,115.8 L125.3,115.9 L126.0,116.1 L126.7,116.3 L127.4,116.5 L128.1,116.7 L128.7,116.9 L129.4,117.1 L130.1,117.3 L130.8,117.5 L131.5,117.8 L132.1,118.0 L132.8,118.2 L133.5,118.5 L134.1,118.8 L134.8,119.1 L135.4,119.4 L136.1,119.7 L136.7,120.0 L137.4,120.4 L138.0,120.8 L138.7,121.1 L139.3,121.5 L139.9,121.9 L140.5,122.4 L141.1,122.8 L141.7,123.2 L142.2,123.6 L142.8,124.1 L143.3,124.5 L143.8,125.0 L144.4,125.5 L144.9,126.0 L145.4,126.5 L145.9,127.0 L146.4,127.5 L146.9,128.1 L147.4,128.6 L147.8,129.2 L148.3,129.8 L148.8,130.4 L149.2,131.0 L149.6,131.5 L150.0,132.1 L150.4,132.7 L150.8,133.3 L151.2,133.9 L151.6,134.5 L152.0,135.1 L152.3,135.8 L152.7,136.4 L153.0,137.0 L153.4,137.7 L153.7,138.3 L154.0,139.0 L154.4,139.6 L154.7,140.3 L155.0,140.9 L155.3,141.6 L155.6,142.3 L155.8,142.9 L156.1,143.6 L156.4,144.2 L156.7,144.9 L156.9,145.6 L157.2,146.2 L157.5,146.9 L157.7,147.6 L158.0,148.3 L158.2,149.0 L158.5,149.6 L158.7,150.3 L158.9,151.0 L159.2,151.7 L159.4,152.4 L159.6,153.1 L159.8,153.8 L160.0,154.5 L160.2,155.2 L160.4,155.8 L160.6,156.5 L160.8,157.2 L161.0,157.9 L161.2,158.6 L161.4,159.3 L161.6,160.0 L161.7,160.7 L161.9,161.4 L162.1,162.1 L162.2,162.8 L162.4,163.5 L162.6,164.2 L162.7,165.0 L162.9,165.7 L163.0,166.4 L163.2,167.1 L163.4,167.8 L163.5,168.5 L163.7,169.2 L163.9,169.9 L164.0,170.6 L164.2,171.3 L164.3,172.0 L164.5,172.7 L164.6,173.4 L164.8,174.1 L164.9,174.8 L165.1,175.5 L165.2,176.2 L165.4,176.9 L165.5,177.7 L165.6,178.4 L165.8,179.1 L165.9,179.8 L166.0,180.5 L166.2,181.2 L166.3,181.9 L166.4,182.6 L166.5,183.3 L166.6,184.1 L166.7,184.8 L166.9,185.5 L167.0,186.2 L167.1,186.9 L167.2,187.6 L167.3,188.3 L167.4,189.0 L167.5,189.8 L167.6,190.5 L167.8,191.2 L167.9,191.9 L168.0,192.6 L168.1,193.3 L168.2,194.0 L168.4,194.7 L168.5,195.5 L168.6,196.2 L168.7,196.9 L168.8,197.6 L169.0,198.3 L169.1,199.0 L169.2,199.7 L169.3,200.4 L169.4,201.2 L169.6,201.9 L169.7,202.6 L169.8,203.3 L169.9,204.0 L170.1,204.7 L170.2,205.4 L170.3,206.1 L170.4,206.8 L170.6,207.6 L170.7,208.3 L170.8,209.0 L170.9,209.7 L171.1,210.4 L171.2,211.1 L171.3,211.8 L171.5,212.5 L171.6,213.2 L171.7,213.9 L171.9,214.7 L172.0,215.4 L172.1,216.1 L172.3,216.8 L172.4,217.5 L172.5,218.2 L172.7,218.9 L172.8,219.6 L173.0,220.3 L173.1,221.0 L173.2,221.8 L173.4,222.5 L173.5,223.2 L173.7,223.9 L173.8,224.6 L174.0,225.3 L174.1,226.0 L174.3,226.7 L174.4,227.4 L174.6,228.1 L174.7,228.8 L174.9,229.5 L175.1,230.2 L175.2,230.9 L175.4,231.6 L175.6,232.3 L175.8,233.0 L175.9,233.7 L176.1,234.4 L176.3,235.1 L176.5,235.8 L176.7,236.5 L176.9,237.2 L177.1,237.9 L177.3,238.6 L177.5,239.3 L177.7,240.0 L177.9,240.7 L178.1,241.4 L178.3,242.1 L178.6,242.8 L178.8,243.5 L179.0,244.1 L179.3,244.8 L179.5,245.5 L179.7,246.2 L180.0,246.8 L180.3,247.5 L180.5,248.2 L180.8,248.9 L181.1,249.5 L181.3,250.2 L181.6,250.8 L181.9,251.5 L182.2,252.2 L182.5,252.8 L182.9,253.5 L183.2,254.1 L183.5,254.8 L183.8,255.4 L184.2,256.1 L184.5,256.7 L184.9,257.3 L185.2,258.0 L185.6,258.6 L185.9,259.2 L186.3,259.8 L186.7,260.4 L187.1,261.0 L187.4,261.7 L187.8,262.3 L188.2,262.9 L188.7,263.5 L189.1,264.1 L189.5,264.7 L189.9,265.3 L190.4,265.8 L190.8,266.4 L191.3,267.0 L191.8,267.5 L192.2,268.1 L192.7,268.6 L193.2,269.1 L193.7,269.6 L194.2,270.1 L194.7,270.6 L195.2,271.1 L195.7,271.6 L196.2,272.1 L196.8,272.6 L197.3,273.1 L197.9,273.6 L198.4,274.0 L199.0,274.5 L199.5,275.0 L200.1,275.4 L200.7,275.9 L201.3,276.3 L201.8,276.8 L202.4,277.2 L203.0,277.7 L203.6,278.1 L204.2,278.5 L204.8,278.9 L205.4,279.3 L206.0,279.7 L206.6,280.2 L207.2,280.5 L207.8,280.9 L208.4,281.3 L209.0,281.7 L209.6,282.1 L210.2,282.5 L210.8,282.8 L211.4,283.2 L212.1,283.5 L212.7,283.9 L213.3,284.3 L213.9,284.6 L214.6,285.0 L215.2,285.3 L215.8,285.7 L216.5,286.0 L217.1,286.4 L217.8,286.7 L218.4,287.0 L219.1,287.4 L219.7,287.7 L220.4,288.0 L221.0,288.3 L221.7,288.6 L222.3,288.9 L223.0,289.3 L223.7,289.6 L224.3,289.9 L225.0,290.2 L225.7,290.4 L226.3,290.7 L227.0,291.0 L227.7,291.3 L228.3,291.6 L229.0,291.8 L229.7,292.1 L230.3,292.4 L231.0,292.6 L231.7,292.9 L232.4,293.1 L233.0,293.4 L233.7,293.6 L234.4,293.9 L235.0,294.1 L235.7,294.3 L236.4,294.6 L237.1,294.8 L237.8,295.0 L238.5,295.3 L239.1,295.5 L239.8,295.7 L240.5,295.9 L241.2,296.2 L241.9,296.4 L242.6,296.6 L243.3,296.8 L244.0,297.0 L244.7,297.2 L245.4,297.4 L246.1,297.6 L246.8,297.8 L247.5,298.0 L248.2,298.2 L248.9,298.4 L249.6,298.6 L250.3,298.8 L251.0,299.0 L251.7,299.1 L252.4,299.3 L253.1,299.5 L253.8,299.7 L254.5,299.8 L255.2,300.0 L255.9,300.2 L256.6,300.3 L257.3,300.5 L258.0,300.6 L258.7,300.8 L259.4,300.9 L260.1,301.1 L260.8,301.2 L261.5,301.4 L262.2,301.5 L262.9,301.6 L263.6,301.8 L264.4,301.9 L265.1,302.0 L265.8,302.2 L266.5,302.3 L267.2,302.4 L267.9,302.5 L268.6,302.7 L269.3,302.8 L270.1,302.9 L270.8,303.0 L271.5,303.1 L272.2,303.3 L272.9,303.4 L273.6,303.5 L274.3,303.6 L275.1,303.7 L275.8,303.8 L276.5,303.9 L277.2,304.0 L277.9,304.1 L278.6,304.3 L279.3,304.4 L280.1,304.5 L280.8,304.6 L281.5,304.7 L282.2,304.8 L282.9,304.9 L283.6,305.0 L284.3,305.1 L285.1,305.2 L285.8,305.3 L286.5,305.4 L287.2,305.5 L287.9,305.6 L288.6,305.7 L289.4,305.8 L290.1,305.9 L290.8,306.0 L291.5,306.1 L292.2,306.1 L292.9,306.2 L293.7,306.3 L294.4,306.4 L295.1,306.5 L295.8,306.6 L296.5,306.7 L297.2,306.8 L298.0,306.9 L298.7,306.9 L299.4,307.0 L300.1,307.1 L300.8,307.2 L301.5,307.3 L302.3,307.4 L303.0,307.5 L303.7,307.6 L304.4,307.6 L305.1,307.7 L305.8,307.8 L306.6,307.9 L307.3,308.0 L308.0,308.1 L308.7,308.2 L309.4,308.3 L310.1,308.3 L310.9,308.4 L311.6,308.5 L312.3,308.6 L313.0,308.7 L313.7,308.8 L314.4,308.9 L315.2,308.9 L315.9,309.0 L316.6,309.1 L317.3,309.2 L318.0,309.3 L318.7,309.4 L319.5,309.4 L320.2,309.5 L320.9,309.6 L321.6,309.7 L322.3,309.8 L323.1,309.9 L323.8,309.9 L324.5,310.0 L325.2,310.1 L325.9,310.2 L326.6,310.2 L327.4,310.3 L328.1,310.4 L328.8,310.5 L329.5,310.5 L330.2,310.6 L331.0,310.7 L331.7,310.8 L332.4,310.8 L333.1,310.9 L333.8,311.0 L334.5,311.0 L335.3,311.1 L336.0,311.2 L336.7,311.2 L337.4,311.3 L338.1,311.4 L338.9,311.4 L339.6,311.5 L340.3,311.5 L341.0,311.6 L341.7,311.7 L342.5,311.7 L343.2,311.8 L343.9,311.8 L344.6,311.9 L345.3,311.9 L346.1,312.0 L346.8,312.0 L347.5,312.1 L348.2,312.2 L348.9,312.2 L349.7,312.3 L350.4,312.3 L351.1,312.4 L351.8,312.4 L352.5,312.5 L353.3,312.5 L354.0,312.6 L354.7,312.6 L355.4,312.7 L356.1,312.7 L356.9,312.8 L357.6,312.8 L358.3,312.9 L359.0,312.9 L359.7,313.0 L360.5,313.0 L361.2,313.1 L361.9,313.1 L362.6,313.2 L363.3,313.2 L364.1,313.3 L364.8,313.3 L365.5,313.4 L366.2,313.5 L366.9,313.5 L367.7,313.6 L368.4,313.6 L369.1,313.7 L369.8,313.7 L370.5,313.8 L371.3,313.8 L372.0,313.9 L372.7,313.9 L373.4,314.0 L374.2,314.0 L374.9,314.1 L375.6,314.1 L376.3,314.2 L377.0,314.2 L377.8,314.3 L378.5,314.3 L379.2,314.4 L379.9,314.4 L380.6,314.5 L381.4,314.5 L382.1,314.6 L382.8,314.6 L383.5,314.7 L384.2,314.7 L385.0,314.8 L385.7,314.8 L386.4,314.8 L387.1,314.9 L387.8,314.9 L388.6,315.0 L389.3,315.0 L390.0,315.1 L390.7,315.1 L391.4,315.2 L392.2,315.2 L392.9,315.3 L393.6,315.3 L394.3,315.4 L395.0,315.4 L395.8,315.4 L396.5,315.5 L397.2,315.5 L397.9,315.6 L398.7,315.6 L399.4,315.7 L400.1,315.7 L400.8,315.8 L401.5,315.8 L402.3,315.9 L403.0,315.9 L403.7,316.0 L404.4,316.0 L405.1,316.1 L405.9,316.1 L406.6,316.2 L407.3,316.2 L408.0,316.3 L408.7,316.3 L409.5,316.4 L410.2,316.4 L410.9,316.5 L411.6,316.5 L412.3,316.6 L413.1,316.6 L413.8,316.7 L414.5,316.7 L415.2,316.8 L415.9,316.9 L416.7,316.9 L417.4,317.0 L418.1,317.0 L418.8,317.1 L419.5,317.2 L420.3,317.2 L421.0,317.3 L421.7,317.3 L422.4,317.4 L423.1,317.5 L423.9,317.5 L424.6,317.6 L425.3,317.6 L426.0,317.7 L426.7,317.8 L427.5,317.8 L428.2,317.9 L428.9,318.0 L429.6,318.0 L430.3,318.1 L431.0,318.2 L431.8,318.2 L432.5,318.3 L433.2,318.4 L433.9,318.4 L434.6,318.5 L435.4,318.6 L436.1,318.6 L436.8,318.7" stroke="#000000" stroke-width="1.5"/>
<path d="M128.4,107.1 L129.2,107.2 L129.9,107.3 L130.6,107.4 L131.4,107.5 L132.1,107.6 L132.8,107.8 L133.5,108.0 L134.3,108.2 L135.0,108.4 L135.6,108.6 L136.3,108.8 L137.0,109.0 L137.7,109.2 L138.4,109.5 L139.0,109.7 L139.7,110.0 L140.3,110.2 L140.9,110.5 L141.6,110.8 L142.2,111.2 L142.9,111.5 L143.5,111.9 L144.1,112.3 L144.7,112.8 L145.3,113.2 L145.9,113.7 L146.5,114.1 L147.1,114.6 L147.6,115.1 L148.1,115.6 L148.7,116.1 L149.2,116.6 L149.6,117.1 L150.1,117.6 L150.6,118.1 L151.0,118.7 L151.5,119.3 L151.9,119.9 L152.4,120.5 L152.8,121.1 L153.2,121.7 L153.6,122.3 L154.0,122.9 L154.4,123.6 L154.7,124.2 L155.1,124.8 L155.4,125.4 L155.8,126.1 L156.1,126.7 L156.4,127.3 L156.8,128.0 L157.1,128.6 L157.4,129.3 L157.7,130.0 L158.0,130.6 L158.3,131.3 L158.5,132.0 L158.8,132.7 L159.1,133.3 L159.4,134.0 L159.6,134.7 L159.9,135.4 L160.1,136.0 L160.4,136.7 L160.6,137.4 L160.9,138.1 L161.1,138.8 L161.3,139.5 L161.6,140.1 L161.8,140.8 L162.0,141.5 L162.2,142.2 L162.4,142.9 L162.6,143.6 L162.8,144.3 L163.0,145.0 L163.2,145.7 L163.4,146.4 L163.6,147.1 L163.8,147.8 L164.0,148.5 L164.2,149.2 L164.4,149.9 L164.6,150.6 L164.8,151.3 L165.0,152.0 L165.2,152.7 L165.4,153.4 L165.5,154.1 L165.7,154.8 L165.9,155.5 L166.1,156.2 L166.3,156.9 L166.4,157.6 L166.6,158.3 L166.8,159.0 L166.9,159.7 L167.1,160.4 L167.3,161.1 L167.4,161.8 L167.6,162.5 L167.8,163.2 L167.9,164.0 L168.1,164.7 L168.2,165.4 L168.4,166.1 L168.5,166.8 L168.7,167.5 L168.8,168.2 L169.0,168.9 L169.1,169.6 L169.3,170.3 L169.4,171.0 L169.6,171.8 L169.7,172.5 L169.8,173.2 L170.0,173.9 L170.1,174.6 L170.3,175.3 L170.4,176.0 L170.5,176.7 L170.7,177.4 L170.8,178.2 L170.9,178.9 L171.1,179.6 L171.2,180.3 L171.3,181.0 L171.5,181.7 L171.6,182.4 L171.7,183.1 L171.9,183.9 L172.0,184.6 L172.1,185.3 L172.2,186.0 L172.3,186.7 L172.5,187.4 L172.6,188.1 L172.7,188.9 L172.8,189.6 L172.9,190.3 L173.0,191.0 L173.1,191.7 L173.3,192.4 L173.4,193.2 L173.5,193.9 L173.6,194.6 L173.7,195.3 L173.7,196.0 L173.8,196.7 L173.9,197.5 L174.0,198.2 L174.1,198.9 L174.2,199.6 L174.3,200.3 L174.4,201.1 L174.5,201.8 L174.6,202.5 L174.7,203.2 L174.8,203.9 L174.8,204.7 L174.9,205.4 L175.0,206.1 L175.1,206.8 L175.2,207.5 L175.3,208.3 L175.4,209.0 L175.5,209.7 L175.6,210.4 L175.7,211.1 L175.9,211.8 L176.0,212.5 L176.1,213.3 L176.2,214.0 L176.3,214.7 L176.5,215.4 L176.6,216.1 L176.7,216.8 L176.8,217.6 L177.0,218.3 L177.1,219.0 L177.2,219.7 L177.3,220.4 L177.5,221.1 L177.6,221.8 L177.8,222.5 L177.9,223.3 L178.0,224.0 L178.2,224.7 L178.3,225.4 L178.5,226.1 L178.6,226.8 L178.8,227.5 L178.9,228.2 L179.1,228.9 L179.2,229.6 L179.4,230.3 L179.6,231.1 L179.7,231.8 L179.9,232.5 L180.1,233.2 L180.3,233.9 L180.4,234.6 L180.6,235.3 L180.8,236.0 L181.0,236.7 L181.2,237.4 L181.4,238.1 L181.6,238.8 L181.9,239.4 L182.1,240.1 L182.3,240.8 L182.5,241.5 L182.8,242.2 L183.0,242.9 L183.2,243.6 L183.5,244.3 L183.7,244.9 L184.0,245.6 L184.2,246.3 L184.5,247.0 L184.8,247.6 L185.0,248.3 L185.3,249.0 L185.6,249.6 L185.9,250.3 L186.2,251.0 L186.5,251.6 L186.8,252.3 L187.1,252.9 L187.5,253.6 L187.8,254.2 L188.1,254.9 L188.5,255.5 L188.8,256.2 L189.1,256.8 L189.5,257.5 L189.8,258.1 L190.2,258.7 L190.5,259.4 L190.8,260.0 L191.2,260.6 L191.6,261.3 L191.9,261.9 L192.3,262.5 L192.7,263.2 L193.1,263.8 L193.4,264.4 L193.8,265.0 L194.2,265.7 L194.6,266.3 L195.1,266.8 L195.5,267.4 L195.9,268.0 L196.4,268.5 L196.8,269.1 L197.3,269.6 L197.8,270.1 L198.3,270.6 L198.8,271.1 L199.3,271.6 L199.8,272.1 L200.3,272.6 L200.8,273.1 L201.4,273.6 L201.9,274.1 L202.5,274.6 L203.0,275.1 L203.6,275.5 L204.2,276.0 L204.8,276.5 L205.4,276.9 L205.9,277.4 L206.5,277.8 L207.1,278.2 L207.7,278.7 L208.3,279.1 L208.9,279.5 L209.5,279.9 L210.1,280.3 L210.7,280.7 L211.4,281.1 L212.0,281.5 L212.6,281.9 L213.2,282.3 L213.8,282.7 L214.4,283.1 L215.0,283.4 L215.6,283.8 L216.2,284.2 L216.9,284.5 L217.5,284.9 L218.1,285.2 L218.8,285.6 L219.4,285.9 L220.0,286.3 L220.7,286.6 L221.3,286.9 L222.0,287.3 L222.6,287.6 L223.3,287.9 L223.9,288.2 L224.6,288.6 L225.3,288.9 L225.9,289.2 L226.6,289.5 L227.3,289.8 L227.9,290.1 L228.6,290.4 L229.3,290.7 L229.9,290.9 L230.6,291.2 L231.3,291.5 L231.9,291.8 L232.6,292.1 L233.3,292.3 L234.0,292.6 L234.6,292.8 L235.3,293.1 L236.0,293.4 L236.6,293.6 L237.3,293.9 L238.0,294.1 L238.7,294.4 L239.4,294.6 L240.1,294.8 L240.7,295.1 L241.4,295.3 L242.1,295.6 L242.8,295.8 L243.5,296.0 L244.2,296.3 L244.9,296.5 L245.6,296.7 L246.3,296.9 L247.0,297.1 L247.7,297.3 L248.3,297.6 L249.0,297.8 L249.7,298.0 L250.4,298.2 L251.1,298.4 L251.8,298.6 L252.5,298.8 L253.2,298.9 L253.9,299.1 L254.6,299.3 L255.4,299.5 L256.1,299.7 L256.8,299.8 L257.5,300.0 L258.2,300.2 L258.9,300.3 L259.6,300.5 L260.3,300.6 L261.0,300.8 L261.7,300.9 L262.4,301.1 L263.1,301.2 L263.8,301.4 L264.5,301.5 L265.2,301.6 L265.9,301.8 L266.7,301.9 L267.4,302.0 L268.1,302.2 L268.8,302.3 L269.5,302.4 L270.2,302.5 L270.9,302.7 L271.7,302.8 L272.4,302.9 L273.1,303.0 L273.8,303.1 L274.5,303.3 L275.2,303.4 L276.0,303.5 L276.7,303.6 L277.4,303.7 L278.1,303.8 L278.8,303.9 L279.5,304.1 L280.3,304.2 L281.0,304.3 L281.7,304.4 L282.4,304.5 L283.1,304.6 L283.8,304.7 L284.6,304.8 L285.3,305.0 L286.0,305.1 L286.7,305.2 L287.4,305.3 L288.1,305.4 L288.9,305.5 L289.6,305.6 L290.3,305.7 L291.0,305.8 L291.7,305.9 L292.5,306.0 L293.2,306.1 L293.9,306.2 L294.6,306.3 L295.3,306.4 L296.0,306.5 L296.8,306.6 L297.5,306.7 L298.2,306.8 L298.9,306.9 L299.6,307.0 L300.4,307.0 L301.1,307.1 L301.8,307.2 L302.5,307.3 L303.2,307.4 L303.9,307.5 L304.7,307.6 L305.4,307.7 L306.1,307.8 L306.8,307.9 L307.5,308.0 L308.3,308.1 L309.0,308.1 L309.7,308.2 L310.4,308.3 L311.1,308.4 L311.9,308.5 L312.6,308.6 L313.3,308.7 L314.0,308.8 L314.7,308.9 L315.5,309.0 L316.2,309.0 L316.9,309.1 L317.6,309.2 L318.3,309.3 L319.1,309.4 L319.8,309.5 L320.5,309.5 L321.2,309.6 L321.9,309.7 L322.7,309.8 L323.4,309.9 L324.1,310.0 L324.8,310.0 L325.5,310.1 L326.3,310.2 L327.0,310.3 L327.7,310.4 L328.4,310.4 L329.1,310.5 L329.9,310.6 L330.6,310.7 L331.3,310.7 L332.0,310.8 L332.7,310.9 L333.5,310.9 L334.2,311.0 L334.9,311.1 L335.6,311.1 L336.3,311.2 L337.1,311.3 L337.8,311.3 L338.5,311.4 L339.2,311.5 L340.0,311.5 L340.7,311.6 L341.4,311.6 L342.1,311.7 L342.8,311.8 L343.6,311.8 L344.3,311.9 L345.0,311.9 L345.7,312.0 L346.5,312.0 L347.2,312.1 L347.9,312.1 L348.6,312.2 L349.4,312.2 L350.1,312.3 L350.8,312.3 L351.5,312.4 L352.2,312.4 L353.0,312.5 L353.7,312.5 L354.4,312.6 L355.1,312.7 L355.9,312.7 L356.6,312.8 L357.3,312.8 L358.0,312.9 L358.7,312.9 L359.5,313.0 L360.2,313.0 L360.9,313.1 L361.6,313.1 L362.4,313.2 L363.1,313.2 L363.8,313.3 L364.5,313.3 L365.3,313.4 L366.0,313.4 L366.7,313.5 L367.4,313.5 L368.1,313.6 L368.9,313.6 L369.6,313.7 L370.3,313.7 L371.0,313.8 L371.8,313.8 L372.5,313.9 L373.2,313.9 L373.9,314.0 L374.7,314.0 L375.4,314.1 L376.1,314.1 L376.8,314.2 L377.5,314.2 L378.3,314.3 L379.0,314.3 L379.7,314.4 L380.4,314.4 L381.2,314.5 L381.9,314.5 L382.6,314.6 L383.3,314.6 L384.1,314.7 L384.8,314.7 L385.5,314.8 L386.2,314.8 L386.9,314.9 L387.7,314.9 L388.4,315.0 L389.1,315.0 L389.8,315.1 L390.6,315.1 L391.3,315.2 L392.0,315.2 L392.7,315.3 L393.5,315.3 L394.2,315.3 L394.9,315.4 L395.6,315.4 L396.3,315.5 L397.1,315.5 L397.8,315.6 L398.5,315.6 L399.2,315.7 L400.0,315.7 L400.7,315.8 L401.4,315.8 L402.1,315.9 L402.9,315.9 L403.6,315.9 L404.3,316.0 L405.0,316.0 L405.7,316.1 L406.5,316.1 L407.2,316.2 L407.9,316.2 L408.6,316.3 L409.4,316.4 L410.1,316.4 L410.8,316.5 L411.5,316.5 L412.3,316.6 L413.0,316.6 L413.7,316.7 L414.4,316.7 L415.1,316.8 L415.9,316.9 L416.6,316.9 L417.3,317.0 L418.0,317.0 L418.8,317.1 L419.5,317.1 L420.2,317.2 L420.9,317.3 L421.6,317.3 L422.4,317.4 L423.1,317.5 L423.8,317.5 L424.5,317.6 L425.3,317.6 L426.0,317.7 L426.7,317.8 L427.4,317.8 L428.1,317.9 L428.9,318.0 L429.6,318.0 L430.3,318.1 L431.0,318.2 L431.7,318.2 L432.5,318.3 L433.2,318.4 L433.9,318.4 L434.6,318.5 L435.4,318.6 L436.1,318.6 L436.8,318.7" stroke="#ff0000" stroke-width="1.5" stroke-dasharray="9.4 2.8 1.9 2.8" stroke-dashoffset="12.2"/>
<path d="M134.4,99.3 L135.1,99.4 L135.9,99.5 L136.6,99.7 L137.4,99.8 L138.1,100.0 L138.8,100.2 L139.5,100.4 L140.2,100.6 L140.9,100.9 L141.6,101.1 L142.3,101.4 L142.9,101.6 L143.6,101.9 L144.3,102.1 L144.9,102.4 L145.5,102.7 L146.2,103.0 L146.8,103.4 L147.5,103.7 L148.1,104.1 L148.7,104.5 L149.3,104.9 L149.9,105.4 L150.5,105.8 L151.1,106.3 L151.7,106.8 L152.3,107.2 L152.8,107.7 L153.3,108.2 L153.8,108.7 L154.3,109.2 L154.8,109.8 L155.2,110.3 L155.7,110.9 L156.1,111.5 L156.6,112.0 L157.0,112.7 L157.4,113.3 L157.8,113.9 L158.2,114.5 L158.6,115.2 L159.0,115.8 L159.3,116.5 L159.7,117.1 L160.0,117.7 L160.4,118.4 L160.7,119.0 L161.0,119.7 L161.3,120.3 L161.7,121.0 L162.0,121.6 L162.3,122.3 L162.6,123.0 L162.9,123.6 L163.1,124.3 L163.4,125.0 L163.7,125.7 L164.0,126.4 L164.2,127.1 L164.5,127.7 L164.7,128.4 L164.9,129.1 L165.2,129.8 L165.4,130.5 L165.6,131.2 L165.8,131.9 L166.0,132.6 L166.2,133.3 L166.4,134.0 L166.6,134.7 L166.8,135.4 L167.0,136.1 L167.2,136.8 L167.3,137.5 L167.5,138.2 L167.7,138.9 L167.9,139.7 L168.0,140.4 L168.2,141.1 L168.4,141.8 L168.5,142.5 L168.7,143.2 L168.9,143.9 L169.0,144.6 L169.2,145.3 L169.3,146.0 L169.5,146.8 L169.6,147.5 L169.8,148.2 L169.9,148.9 L170.1,149.6 L170.2,150.3 L170.4,151.1 L170.5,151.8 L170.6,152.5 L170.8,153.2 L170.9,153.9 L171.1,154.6 L171.2,155.3 L171.3,156.1 L171.5,156.8 L171.6,157.5 L171.7,158.2 L171.8,158.9 L172.0,159.7 L172.1,160.4 L172.2,161.1 L172.4,161.8 L172.5,162.5 L172.6,163.2 L172.7,164.0 L172.8,164.7 L173.0,165.4 L173.1,166.1 L173.2,166.8 L173.3,167.6 L173.4,168.3 L173.6,169.0 L173.7,169.7 L173.8,170.4 L173.9,171.2 L174.0,171.9 L174.1,172.6 L174.2,173.3 L174.4,174.0 L174.5,174.8 L174.6,175.5 L174.7,176.2 L174.8,176.9 L174.9,177.6 L175.0,178.4 L175.1,179.1 L175.2,179.8 L175.3,180.5 L175.4,181.3 L175.5,182.0 L175.6,182.7 L175.7,183.4 L175.8,184.1 L175.9,184.9 L176.0,185.6 L176.2,186.3 L176.3,187.0 L176.4,187.8 L176.5,188.5 L176.6,189.2 L176.7,189.9 L176.8,190.6 L176.9,191.4 L177.0,192.1 L177.1,192.8 L177.2,193.5 L177.3,194.3 L177.4,195.0 L177.5,195.7 L177.6,196.4 L177.7,197.1 L177.8,197.9 L177.9,198.6 L178.0,199.3 L178.1,200.0 L178.2,200.8 L178.3,201.5 L178.4,202.2 L178.5,202.9 L178.6,203.6 L178.7,204.4 L178.8,205.1 L178.9,205.8 L179.0,206.5 L179.1,207.2 L179.2,208.0 L179.4,208.7 L179.5,209.4 L179.6,210.1 L179.7,210.8 L179.8,211.6 L179.9,212.3 L180.1,213.0 L180.2,213.7 L180.3,214.4 L180.4,215.2 L180.5,215.9 L180.7,216.6 L180.8,217.3 L180.9,218.0 L181.1,218.8 L181.2,219.5 L181.3,220.2 L181.5,220.9 L181.6,221.6 L181.7,222.3 L181.9,223.1 L182.0,223.8 L182.1,224.5 L182.3,225.2 L182.4,225.9 L182.6,226.6 L182.7,227.4 L182.9,228.1 L183.0,228.8 L183.1,229.5 L183.3,230.2 L183.4,230.9 L183.6,231.6 L183.7,232.4 L183.9,233.1 L184.0,233.8 L184.2,234.5 L184.4,235.2 L184.5,236.0 L184.7,236.7 L184.8,237.4 L185.0,238.1 L185.2,238.8 L185.3,239.5 L185.5,240.2 L185.7,240.9 L185.9,241.6 L186.1,242.3 L186.3,243.0 L186.5,243.7 L186.7,244.4 L186.9,245.1 L187.1,245.8 L187.4,246.5 L187.6,247.2 L187.9,247.8 L188.1,248.5 L188.4,249.2 L188.7,249.9 L189.0,250.5 L189.3,251.2 L189.6,251.9 L189.9,252.5 L190.2,253.2 L190.6,253.9 L190.9,254.5 L191.2,255.2 L191.6,255.8 L191.9,256.5 L192.3,257.1 L192.6,257.7 L193.0,258.3 L193.3,259.0 L193.7,259.6 L194.1,260.2 L194.5,260.9 L194.9,261.5 L195.3,262.1 L195.7,262.7 L196.1,263.3 L196.5,263.9 L197.0,264.5 L197.4,265.1 L197.8,265.7 L198.3,266.3 L198.7,266.8 L199.2,267.4 L199.7,268.0 L200.1,268.5 L200.6,269.0 L201.1,269.6 L201.6,270.1 L202.1,270.6 L202.6,271.1 L203.1,271.6 L203.6,272.1 L204.1,272.6 L204.7,273.2 L205.2,273.7 L205.8,274.1 L206.3,274.6 L206.9,275.1 L207.4,275.6 L208.0,276.1 L208.6,276.6 L209.1,277.0 L209.7,277.5 L210.3,277.9 L210.9,278.4 L211.5,278.8 L212.1,279.3 L212.6,279.7 L213.2,280.2 L213.8,280.6 L214.4,281.0 L215.0,281.4 L215.6,281.8 L216.2,282.2 L216.8,282.6 L217.4,283.0 L218.1,283.4 L218.7,283.7 L219.3,284.1 L219.9,284.5 L220.5,284.9 L221.2,285.2 L221.8,285.6 L222.4,285.9 L223.1,286.3 L223.7,286.6 L224.4,287.0 L225.0,287.3 L225.7,287.6 L226.3,288.0 L227.0,288.3 L227.7,288.6 L228.3,288.9 L229.0,289.3 L229.7,289.6 L230.3,289.9 L231.0,290.2 L231.7,290.5 L232.3,290.8 L233.0,291.1 L233.7,291.3 L234.4,291.6 L235.0,291.9 L235.7,292.2 L236.4,292.4 L237.0,292.7 L237.7,293.0 L238.4,293.2 L239.1,293.5 L239.8,293.8 L240.4,294.0 L241.1,294.3 L241.8,294.5 L242.5,294.8 L243.2,295.0 L243.9,295.3 L244.6,295.5 L245.3,295.8 L245.9,296.0 L246.6,296.2 L247.3,296.5 L248.0,296.7 L248.7,296.9 L249.4,297.1 L250.1,297.3 L250.8,297.6 L251.5,297.8 L252.2,298.0 L252.9,298.2 L253.6,298.4 L254.3,298.6 L255.0,298.8 L255.7,299.0 L256.4,299.1 L257.2,299.3 L257.9,299.5 L258.6,299.7 L259.3,299.8 L260.0,300.0 L260.7,300.2 L261.4,300.3 L262.1,300.5 L262.8,300.6 L263.5,300.8 L264.2,300.9 L265.0,301.1 L265.7,301.2 L266.4,301.4 L267.1,301.5 L267.8,301.6 L268.5,301.8 L269.2,301.9 L270.0,302.1 L270.7,302.2 L271.4,302.3 L272.1,302.5 L272.8,302.6 L273.6,302.7 L274.3,302.8 L275.0,303.0 L275.7,303.1 L276.4,303.2 L277.2,303.3 L277.9,303.4 L278.6,303.6 L279.3,303.7 L280.0,303.8 L280.8,303.9 L281.5,304.1 L282.2,304.2 L282.9,304.3 L283.6,304.4 L284.4,304.5 L285.1,304.6 L285.8,304.8 L286.5,304.9 L287.2,305.0 L288.0,305.1 L288.7,305.2 L289.4,305.3 L290.1,305.4 L290.9,305.5 L291.6,305.6 L292.3,305.7 L293.0,305.8 L293.7,305.9 L294.5,306.0 L295.2,306.1 L295.9,306.2 L296.6,306.3 L297.4,306.4 L298.1,306.5 L298.8,306.6 L299.5,306.7 L300.2,306.8 L301.0,306.9 L301.7,307.0 L302.4,307.1 L303.1,307.2 L303.9,307.3 L304.6,307.4 L305.3,307.5 L306.0,307.6 L306.7,307.7 L307.5,307.8 L308.2,307.9 L308.9,308.0 L309.6,308.1 L310.4,308.2 L311.1,308.3 L311.8,308.4 L312.5,308.5 L313.3,308.6 L314.0,308.7 L314.7,308.8 L315.4,308.8 L316.2,308.9 L316.9,309.0 L317.6,309.1 L318.3,309.2 L319.0,309.3 L319.8,309.4 L320.5,309.5 L321.2,309.6 L321.9,309.7 L322.7,309.7 L323.4,309.8 L324.1,309.9 L324.8,310.0 L325.6,310.1 L326.3,310.2 L327.0,310.2 L327.7,310.3 L328.5,310.4 L329.2,310.5 L329.9,310.6 L330.6,310.6 L331.4,310.7 L332.1,310.8 L332.8,310.9 L333.5,310.9 L334.3,311.0 L335.0,311.1 L335.7,311.1 L336.4,311.2 L337.2,311.3 L337.9,311.3 L338.6,311.4 L339.3,311.5 L340.1,311.5 L340.8,311.6 L341.5,311.7 L342.3,311.7 L343.0,311.8 L343.7,311.8 L344.4,311.9 L345.2,311.9 L345.9,312.0 L346.6,312.0 L347.3,312.1 L348.1,312.1 L348.8,312.2 L349.5,312.3 L350.3,312.3 L351.0,312.4 L351.7,312.4 L352.4,312.5 L353.2,312.5 L353.9,312.6 L354.6,312.6 L355.3,312.7 L356.1,312.7 L356.8,312.8 L357.5,312.8 L358.3,312.9 L359.0,312.9 L359.7,313.0 L360.4,313.0 L361.2,313.1 L361.9,313.1 L362.6,313.2 L363.3,313.2 L364.1,313.3 L364.8,313.3 L365.5,313.4 L366.3,313.5 L367.0,313.5 L367.7,313.6 L368.4,313.6 L369.2,313.7 L369.9,313.7 L370.6,313.8 L371.4,313.8 L372.1,313.9 L372.8,313.9 L373.5,314.0 L374.3,314.0 L375.0,314.1 L375.7,314.1 L376.4,314.2 L377.2,314.2 L377.9,314.3 L378.6,314.3 L379.4,314.4 L380.1,314.4 L380.8,314.5 L381.5,314.5 L382.3,314.6 L383.0,314.6 L383.7,314.7 L384.4,314.7 L385.2,314.8 L385.9,314.8 L386.6,314.9 L387.4,314.9 L388.1,315.0 L388.8,315.0 L389.5,315.0 L390.3,315.1 L391.0,315.1 L391.7,315.2 L392.5,315.2 L393.2,315.3 L393.9,315.3 L394.6,315.4 L395.4,315.4 L396.1,315.5 L396.8,315.5 L397.5,315.6 L398.3,315.6 L399.0,315.6 L399.7,315.7 L400.5,315.7 L401.2,315.8 L401.9,315.8 L402.6,315.9 L403.4,315.9 L404.1,316.0 L404.8,316.0 L405.6,316.1 L406.3,316.1 L407.0,316.2 L407.7,316.2 L408.5,316.3 L409.2,316.3 L409.9,316.4 L410.6,316.4 L411.4,316.5 L412.1,316.6 L412.8,316.6 L413.6,316.7 L414.3,316.7 L415.0,316.8 L415.7,316.8 L416.5,316.9 L417.2,317.0 L417.9,317.0 L418.6,317.1 L419.4,317.1 L420.1,317.2 L420.8,317.3 L421.5,317.3 L422.3,317.4 L423.0,317.4 L423.7,317.5 L424.5,317.6 L425.2,317.6 L425.9,317.7 L426.6,317.8 L427.4,317.8 L428.1,317.9 L428.8,318.0 L429.5,318.0 L430.3,318.1 L431.0,318.2 L431.7,318.2 L432.4,318.3 L433.2,318.4 L433.9,318.4 L434.6,318.5 L435.3,318.6 L436.1,318.6 L436.8,318.7" stroke="#008000" stroke-width="1.5" stroke-dasharray="8.6 2.8 1.6 2.8 1.6 2.8" stroke-dashoffset="15.8"/>
<path d="M139.0,91.8 L139.8,91.8 L140.6,91.9 L141.3,91.9 L142.1,92.0 L142.8,92.2 L143.6,92.3 L144.3,92.5 L145.0,92.6 L145.7,92.8 L146.4,93.0 L147.1,93.2 L147.8,93.4 L148.4,93.6 L149.1,93.8 L149.8,94.1 L150.4,94.4 L151.0,94.7 L151.7,95.1 L152.3,95.5 L152.9,95.9 L153.5,96.4 L154.1,96.8 L154.7,97.3 L155.3,97.8 L155.9,98.3 L156.4,98.8 L157.0,99.3 L157.5,99.8 L158.1,100.3 L158.6,100.8 L159.1,101.4 L159.6,101.9 L160.1,102.4 L160.6,103.0 L161.1,103.6 L161.6,104.1 L162.1,104.7 L162.5,105.3 L163.0,105.9 L163.4,106.5 L163.8,107.1 L164.2,107.7 L164.5,108.3 L164.9,109.0 L165.3,109.6 L165.6,110.3 L166.0,110.9 L166.3,111.6 L166.6,112.3 L166.9,112.9 L167.2,113.6 L167.5,114.3 L167.8,115.0 L168.1,115.7 L168.3,116.4 L168.6,117.1 L168.8,117.8 L169.1,118.5 L169.3,119.2 L169.5,119.9 L169.7,120.6 L169.9,121.3 L170.1,122.0 L170.3,122.7 L170.5,123.4 L170.7,124.1 L170.8,124.8 L171.0,125.6 L171.2,126.3 L171.4,127.0 L171.5,127.7 L171.7,128.4 L171.8,129.2 L172.0,129.9 L172.2,130.6 L172.3,131.3 L172.5,132.0 L172.6,132.8 L172.8,133.5 L172.9,134.2 L173.1,134.9 L173.2,135.7 L173.3,136.4 L173.5,137.1 L173.6,137.8 L173.7,138.6 L173.9,139.3 L174.0,140.0 L174.1,140.7 L174.3,141.5 L174.4,142.2 L174.5,142.9 L174.7,143.6 L174.8,144.4 L174.9,145.1 L175.1,145.8 L175.2,146.5 L175.4,147.3 L175.5,148.0 L175.6,148.7 L175.8,149.4 L175.9,150.2 L176.0,150.9 L176.2,151.6 L176.3,152.3 L176.4,153.1 L176.6,153.8 L176.7,154.5 L176.8,155.2 L176.9,156.0 L177.0,156.7 L177.1,157.4 L177.2,158.2 L177.3,158.9 L177.4,159.6 L177.5,160.3 L177.6,161.1 L177.7,161.8 L177.8,162.5 L177.9,163.3 L177.9,164.0 L178.0,164.7 L178.1,165.5 L178.2,166.2 L178.2,166.9 L178.3,167.7 L178.4,168.4 L178.5,169.1 L178.6,169.9 L178.6,170.6 L178.7,171.3 L178.8,172.1 L178.9,172.8 L178.9,173.5 L179.0,174.3 L179.1,175.0 L179.2,175.7 L179.3,176.5 L179.4,177.2 L179.5,177.9 L179.5,178.7 L179.6,179.4 L179.7,180.1 L179.8,180.9 L179.9,181.6 L180.0,182.3 L180.1,183.1 L180.1,183.8 L180.2,184.5 L180.3,185.3 L180.4,186.0 L180.5,186.7 L180.6,187.5 L180.7,188.2 L180.8,188.9 L180.8,189.7 L180.9,190.4 L181.0,191.1 L181.1,191.8 L181.2,192.6 L181.3,193.3 L181.4,194.0 L181.4,194.8 L181.5,195.5 L181.6,196.2 L181.7,197.0 L181.8,197.7 L181.9,198.4 L181.9,199.2 L182.0,199.9 L182.1,200.6 L182.2,201.4 L182.3,202.1 L182.4,202.8 L182.5,203.6 L182.6,204.3 L182.7,205.0 L182.7,205.8 L182.8,206.5 L182.9,207.2 L183.0,208.0 L183.1,208.7 L183.2,209.4 L183.3,210.1 L183.4,210.9 L183.5,211.6 L183.6,212.3 L183.7,213.1 L183.8,213.8 L183.9,214.5 L184.1,215.3 L184.2,216.0 L184.3,216.7 L184.4,217.4 L184.5,218.2 L184.6,218.9 L184.7,219.6 L184.8,220.4 L185.0,221.1 L185.1,221.8 L185.2,222.5 L185.3,223.3 L185.5,224.0 L185.6,224.7 L185.7,225.4 L185.9,226.2 L186.0,226.9 L186.1,227.6 L186.3,228.3 L186.4,229.1 L186.6,229.8 L186.7,230.5 L186.9,231.2 L187.0,232.0 L187.2,232.7 L187.3,233.4 L187.5,234.1 L187.7,234.8 L187.8,235.6 L188.0,236.3 L188.2,237.0 L188.4,237.7 L188.6,238.4 L188.7,239.1 L188.9,239.9 L189.1,240.6 L189.3,241.3 L189.5,242.0 L189.7,242.7 L189.9,243.4 L190.2,244.1 L190.4,244.8 L190.6,245.5 L190.8,246.2 L191.1,246.9 L191.3,247.6 L191.6,248.3 L191.8,249.0 L192.1,249.7 L192.4,250.4 L192.6,251.1 L192.9,251.8 L193.2,252.5 L193.5,253.1 L193.8,253.8 L194.1,254.5 L194.4,255.1 L194.7,255.8 L195.1,256.4 L195.4,257.1 L195.7,257.7 L196.1,258.3 L196.5,259.0 L196.9,259.6 L197.3,260.2 L197.7,260.8 L198.1,261.4 L198.5,262.0 L199.0,262.6 L199.4,263.2 L199.9,263.8 L200.3,264.4 L200.8,265.0 L201.3,265.6 L201.8,266.1 L202.2,266.7 L202.7,267.3 L203.2,267.8 L203.7,268.4 L204.2,268.9 L204.7,269.4 L205.2,270.0 L205.8,270.5 L206.3,271.0 L206.9,271.5 L207.4,271.9 L208.0,272.4 L208.5,272.9 L209.0,273.5 L209.6,274.0 L210.1,274.5 L210.7,275.0 L211.2,275.5 L211.7,276.0 L212.3,276.5 L212.8,277.0 L213.4,277.6 L213.9,278.1 L214.5,278.6 L215.0,279.1 L215.6,279.5 L216.1,280.0 L216.7,280.5 L217.3,281.0 L217.8,281.4 L218.4,281.9 L219.0,282.3 L219.6,282.7 L220.2,283.1 L220.8,283.5 L221.4,283.9 L222.0,284.3 L222.6,284.7 L223.3,285.0 L223.9,285.4 L224.5,285.8 L225.2,286.1 L225.8,286.5 L226.5,286.8 L227.1,287.2 L227.8,287.5 L228.5,287.8 L229.1,288.2 L229.8,288.5 L230.5,288.8 L231.2,289.1 L231.8,289.4 L232.5,289.7 L233.2,290.0 L233.9,290.3 L234.6,290.6 L235.2,290.9 L235.9,291.2 L236.6,291.5 L237.3,291.8 L238.0,292.1 L238.6,292.3 L239.3,292.6 L240.0,292.9 L240.7,293.2 L241.4,293.4 L242.1,293.7 L242.7,294.0 L243.4,294.2 L244.1,294.5 L244.8,294.7 L245.5,295.0 L246.2,295.3 L246.9,295.5 L247.6,295.7 L248.3,296.0 L249.0,296.2 L249.7,296.5 L250.4,296.7 L251.1,296.9 L251.8,297.1 L252.5,297.4 L253.2,297.6 L253.9,297.8 L254.6,298.0 L255.4,298.2 L256.1,298.4 L256.8,298.6 L257.5,298.8 L258.2,299.0 L258.9,299.2 L259.6,299.3 L260.3,299.5 L261.0,299.7 L261.8,299.8 L262.5,300.0 L263.2,300.2 L263.9,300.3 L264.6,300.5 L265.3,300.7 L266.1,300.8 L266.8,301.0 L267.5,301.1 L268.2,301.3 L269.0,301.4 L269.7,301.6 L270.4,301.7 L271.1,301.8 L271.9,302.0 L272.6,302.1 L273.3,302.3 L274.0,302.4 L274.8,302.5 L275.5,302.7 L276.2,302.8 L276.9,302.9 L277.7,303.1 L278.4,303.2 L279.1,303.3 L279.8,303.5 L280.6,303.6 L281.3,303.7 L282.0,303.8 L282.8,304.0 L283.5,304.1 L284.2,304.2 L284.9,304.3 L285.7,304.4 L286.4,304.6 L287.1,304.7 L287.8,304.8 L288.6,304.9 L289.3,305.0 L290.0,305.1 L290.8,305.3 L291.5,305.4 L292.2,305.5 L292.9,305.6 L293.7,305.7 L294.4,305.8 L295.1,305.9 L295.9,306.0 L296.6,306.1 L297.3,306.2 L298.1,306.3 L298.8,306.4 L299.5,306.5 L300.2,306.6 L301.0,306.7 L301.7,306.8 L302.4,306.9 L303.2,307.0 L303.9,307.1 L304.6,307.3 L305.4,307.4 L306.1,307.5 L306.8,307.6 L307.5,307.7 L308.3,307.8 L309.0,307.9 L309.7,308.0 L310.5,308.1 L311.2,308.2 L311.9,308.3 L312.7,308.4 L313.4,308.5 L314.1,308.6 L314.9,308.7 L315.6,308.8 L316.3,308.9 L317.0,309.0 L317.8,309.1 L318.5,309.2 L319.2,309.3 L320.0,309.4 L320.7,309.4 L321.4,309.5 L322.2,309.6 L322.9,309.7 L323.6,309.8 L324.4,309.9 L325.1,310.0 L325.8,310.1 L326.6,310.2 L327.3,310.3 L328.0,310.3 L328.8,310.4 L329.5,310.5 L330.2,310.6 L331.0,310.7 L331.7,310.7 L332.4,310.8 L333.1,310.9 L333.9,311.0 L334.6,311.0 L335.3,311.1 L336.1,311.2 L336.8,311.2 L337.5,311.3 L338.3,311.4 L339.0,311.4 L339.8,311.5 L340.5,311.6 L341.2,311.6 L342.0,311.7 L342.7,311.7 L343.4,311.8 L344.2,311.9 L344.9,311.9 L345.6,312.0 L346.4,312.0 L347.1,312.1 L347.8,312.1 L348.6,312.2 L349.3,312.2 L350.0,312.3 L350.8,312.3 L351.5,312.4 L352.2,312.5 L353.0,312.5 L353.7,312.6 L354.5,312.6 L355.2,312.7 L355.9,312.7 L356.7,312.8 L357.4,312.8 L358.1,312.9 L358.9,312.9 L359.6,313.0 L360.3,313.0 L361.1,313.1 L361.8,313.1 L362.5,313.2 L363.3,313.2 L364.0,313.3 L364.8,313.3 L365.5,313.4 L366.2,313.5 L367.0,313.5 L367.7,313.6 L368.4,313.6 L369.2,313.7 L369.9,313.7 L370.6,313.8 L371.4,313.8 L372.1,313.9 L372.8,313.9 L373.6,314.0 L374.3,314.0 L375.0,314.1 L375.8,314.1 L376.5,314.2 L377.3,314.2 L378.0,314.3 L378.7,314.3 L379.5,314.4 L380.2,314.4 L380.9,314.5 L381.7,314.5 L382.4,314.6 L383.1,314.6 L383.9,314.7 L384.6,314.7 L385.3,314.8 L386.1,314.8 L386.8,314.9 L387.6,314.9 L388.3,315.0 L389.0,315.0 L389.8,315.1 L390.5,315.1 L391.2,315.2 L392.0,315.2 L392.7,315.2 L393.4,315.3 L394.2,315.3 L394.9,315.4 L395.6,315.4 L396.4,315.5 L397.1,315.5 L397.9,315.6 L398.6,315.6 L399.3,315.7 L400.1,315.7 L400.8,315.8 L401.5,315.8 L402.3,315.9 L403.0,315.9 L403.7,316.0 L404.5,316.0 L405.2,316.1 L405.9,316.1 L406.7,316.2 L407.4,316.2 L408.2,316.3 L408.9,316.3 L409.6,316.4 L410.4,316.4 L411.1,316.5 L411.8,316.5 L412.6,316.6 L413.3,316.7 L414.0,316.7 L414.8,316.8 L415.5,316.8 L416.2,316.9 L417.0,316.9 L417.7,317.0 L418.4,317.1 L419.2,317.1 L419.9,317.2 L420.6,317.2 L421.4,317.3 L422.1,317.4 L422.8,317.4 L423.6,317.5 L424.3,317.6 L425.1,317.6 L425.8,317.7 L426.5,317.8 L427.3,317.8 L428.0,317.9 L428.7,317.9 L429.5,318.0 L430.2,318.1 L430.9,318.1 L431.7,318.2 L432.4,318.3 L433.1,318.4 L433.9,318.4 L434.6,318.5 L435.3,318.6 L436.1,318.6 L436.8,318.7" stroke="#0000ff" stroke-width="1.7" stroke-dasharray="1.6 1.2"/>
</g>
<rect x="92.8" y="46.2" width="353.4" height="286.6" fill="none" stroke="#1a1a1a" stroke-width="1.4"/>
<path d="M107.50,332.8 v-5.2 M107.50,46.2 v5.2 M122.22,332.8 v-2.8 M122.22,46.2 v2.8 M136.93,332.8 v-2.8 M136.93,46.2 v2.8 M151.65,332.8 v-2.8 M151.65,46.2 v2.8 M166.36,332.8 v-2.8 M166.36,46.2 v2.8 M181.08,332.8 v-5.2 M181.08,46.2 v5.2 M195.80,332.8 v-2.8 M195.80,46.2 v2.8 M210.51,332.8 v-2.8 M210.51,46.2 v2.8 M225.23,332.8 v-2.8 M225.23,46.2 v2.8 M239.94,332.8 v-2.8 M239.94,46.2 v2.8 M254.66,332.8 v-5.2 M254.66,46.2 v5.2 M269.38,332.8 v-2.8 M269.38,46.2 v2.8 M284.09,332.8 v-2.8 M284.09,46.2 v2.8 M298.81,332.8 v-2.8 M298.81,46.2 v2.8 M313.52,332.8 v-2.8 M313.52,46.2 v2.8 M328.24,332.8 v-5.2 M328.24,46.2 v5.2 M342.96,332.8 v-2.8 M342.96,46.2 v2.8 M357.67,332.8 v-2.8 M357.67,46.2 v2.8 M372.39,332.8 v-2.8 M372.39,46.2 v2.8 M387.10,332.8 v-2.8 M387.10,46.2 v2.8 M401.82,332.8 v-5.2 M401.82,46.2 v5.2 M416.54,332.8 v-2.8 M416.54,46.2 v2.8 M431.25,332.8 v-2.8 M431.25,46.2 v2.8 M92.8,320.06 h2.8 M446.2,320.06 h-2.8 M92.8,307.32 h2.8 M446.2,307.32 h-2.8 M92.8,294.58 h2.8 M446.2,294.58 h-2.8 M92.8,281.84 h2.8 M446.2,281.84 h-2.8 M92.8,269.10 h5.2 M446.2,269.10 h-5.2 M92.8,256.36 h2.8 M446.2,256.36 h-2.8 M92.8,243.62 h2.8 M446.2,243.62 h-2.8 M92.8,230.88 h2.8 M446.2,230.88 h-2.8 M92.8,218.14 h2.8 M446.2,218.14 h-2.8 M92.8,205.40 h5.2 M446.2,205.40 h-5.2 M92.8,192.66 h2.8 M446.2,192.66 h-2.8 M92.8,179.92 h2.8 M446.2,179.92 h-2.8 M92.8,167.18 h2.8 M446.2,167.18 h-2.8 M92.8,154.44 h2.8 M446.2,154.44 h-2.8 M92.8,141.70 h5.2 M446.2,141.70 h-5.2 M92.8,128.96 h2.8 M446.2,128.96 h-2.8 M92.8,116.22 h2.8 M446.2,116.22 h-2.8 M92.8,103.48 h2.8 M446.2,103.48 h-2.8 M92.8,90.74 h2.8 M446.2,90.74 h-2.8 M92.8,78.00 h5.2 M446.2,78.00 h-5.2 M92.8,65.26 h2.8 M446.2,65.26 h-2.8 M92.8,52.52 h2.8 M446.2,52.52 h-2.8" stroke="#1a1a1a" stroke-width="1" fill="none"/>
<g font-family="'Liberation Sans', sans-serif" font-size="11.3" fill="#000"><text x="107.8" y="347.6" text-anchor="middle">8</text><text x="181.4" y="347.6" text-anchor="middle">10</text><text x="255.0" y="347.6" text-anchor="middle">12</text><text x="328.5" y="347.6" text-anchor="middle">14</text><text x="402.1" y="347.6" text-anchor="middle">16</text><text x="86.6" y="336.3" text-anchor="end">0.0</text><text x="86.6" y="272.6" text-anchor="end">0.5</text><text x="86.6" y="208.9" text-anchor="end">1.0</text><text x="86.6" y="145.2" text-anchor="end">1.5</text><text x="86.6" y="81.5" text-anchor="end">2.0</text></g>
<g font-family="'Liberation Serif', serif" font-size="14" fill="#000">
<text x="269.4" y="369.6" text-anchor="middle">R(km)</text>
<g transform="translate(63.8,210.7) rotate(-90)"><text x="0" y="0">M[M</text><circle cx="33.1" cy="2.4" r="3.7" fill="none" stroke="#000" stroke-width="0.7"/><circle cx="33.1" cy="2.4" r="0.7" fill="#000"/><text x="37.2" y="0">]</text></g>
<path d="M310.2,92.2 H343.4" fill="none" stroke="#0000ff" stroke-width="2.2"/>
<text x="346.6" y="97.1">α= -3 <tspan font-size="16.1">km</tspan><tspan font-size="16" dy="-5.1">2</tspan></text>
<path d="M310.2,116.5 H341.4" fill="none" stroke="#008000" stroke-width="2.2" stroke-dasharray="3 1.04"/>
<text x="346.6" y="121.4">α= -2 <tspan font-size="16.1">km</tspan><tspan font-size="16" dy="-5.1">2</tspan></text>
<path d="M310.2,142.3 H343.4" fill="none" stroke="#ff0000" stroke-width="2.2" stroke-dasharray="4.6 8.25"/>
<text x="346.6" y="147.2">α= -1 <tspan font-size="16.1">km</tspan><tspan font-size="16" dy="-5.1">2</tspan></text>
<path d="M310.2,161.8 H343.4" fill="none" stroke="#000000" stroke-width="1.5"/>
<text x="346.6" y="166.7">α=0 (GR)</text>
<path d="M310.2,187.4 H343.4" fill="none" stroke="#ff0000" stroke-width="1.5" stroke-dasharray="9.4 2.8 1.9 2.8"/>
<text x="346.6" y="192.3">α=1 <tspan font-size="16.1">km</tspan><tspan font-size="16" dy="-5.1">2</tspan></text>
<path d="M310.2,213.1 H343.4" fill="none" stroke="#008000" stroke-width="1.5" stroke-dasharray="9.4 2.5 1.6 2.5 1.6 2.5"/>
<text x="346.6" y="218.0">α=2 <tspan font-size="16.1">km</tspan><tspan font-size="16" dy="-5.1">2</tspan></text>
<path d="M310.2,238.7 H343.4" fill="none" stroke="#0000ff" stroke-width="1.6" stroke-dasharray="1.5 1.0"/>
<text x="346.6" y="243.6">α=3 <tspan font-size="16.1">km</tspan><tspan font-size="16" dy="-5.1">2</tspan></text>
</g>
</svg>
</body>
</html>
